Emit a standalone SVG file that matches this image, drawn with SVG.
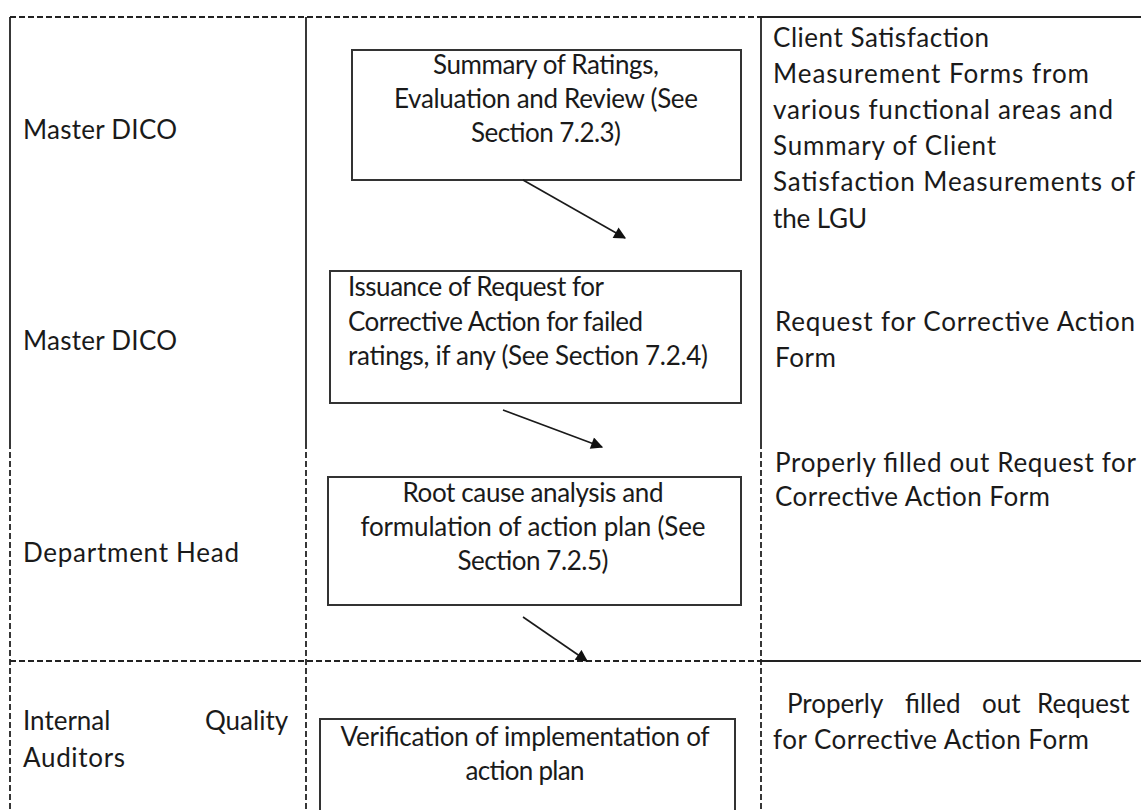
<svg xmlns="http://www.w3.org/2000/svg" width="1141" height="810" viewBox="0 0 1141 810">
  <style>
    text { font-family: Lato, Carlito, "Open Sans", "Liberation Sans", sans-serif; font-size: 26px; fill: #1a1a1a; }
    .box { fill: #ffffff; stroke: #333333; stroke-width: 2; }
    .solid { stroke: #222222; stroke-width: 1.8; fill: none; }
    .dash { stroke: #222222; stroke-width: 1.8; fill: none; stroke-dasharray: 6 3; }
    .flow { stroke: #1a1a1a; stroke-width: 1.6; fill: none; }
    .c { text-anchor: middle; }
  </style>
  <defs>
    <marker id="head" viewBox="0 0 10 10" refX="9" refY="5" markerWidth="13" markerHeight="12" markerUnits="userSpaceOnUse" orient="auto">
      <path d="M0,0 L10,5 L0,10 z" fill="#111"/>
    </marker>
    <marker id="headBig" viewBox="0 0 10 10" refX="9" refY="5" markerWidth="13" markerHeight="12" markerUnits="userSpaceOnUse" orient="auto">
      <path d="M0,0 L10,5 L0,10 z" fill="#111"/>
    </marker>
  </defs>
  <rect width="1141" height="810" fill="#ffffff"/>

  <!-- table grid -->
  <g id="grid">
    <line class="dash" x1="10" y1="17" x2="761" y2="17"/>
    <line class="solid" x1="761" y1="17" x2="1141" y2="17"/>
    <line class="dash" x1="10" y1="661" x2="761" y2="661"/>
    <line class="solid" x1="761" y1="661" x2="1141" y2="661"/>
    <line class="solid" x1="10" y1="17" x2="10" y2="443"/>
    <line class="dash" x1="10" y1="443" x2="10" y2="810"/>
    <line class="solid" x1="306" y1="17" x2="306" y2="443"/>
    <line class="dash" x1="306" y1="443" x2="306" y2="810"/>
    <line class="solid" x1="761" y1="17" x2="761" y2="443"/>
    <line class="dash" x1="761" y1="443" x2="761" y2="810"/>
  </g>

  <!-- responsible parties -->
  <g id="roles">
    <text x="23" y="139" textLength="154" lengthAdjust="spacing">Master DICO</text>
    <text x="23" y="350" textLength="154" lengthAdjust="spacing">Master DICO</text>
    <text x="23" y="562" textLength="216" lengthAdjust="spacing">Department Head</text>
    <text y="730"><tspan x="23">Internal</tspan><tspan x="205">Quality</tspan></text>
    <text x="23" y="767" textLength="102" lengthAdjust="spacing">Auditors</text>
  </g>

  <!-- process steps -->
  <g id="step-summary">
    <rect class="box" x="352" y="50" width="389" height="130"/>
    <text class="c" x="546" y="74" textLength="226" lengthAdjust="spacing">Summary of Ratings,</text>
    <text class="c" x="546" y="108" textLength="304" lengthAdjust="spacing">Evaluation and Review (See</text>
    <text class="c" x="546" y="142" textLength="150" lengthAdjust="spacing">Section 7.2.3)</text>
  </g>
  <g id="step-request">
    <rect class="box" x="330" y="271" width="411" height="132"/>
    <text x="348" y="296" textLength="256" lengthAdjust="spacing">Issuance of Request for</text>
    <text x="348" y="331" textLength="295" lengthAdjust="spacing">Corrective Action for failed</text>
    <text x="348" y="365" textLength="360" lengthAdjust="spacing">ratings, if any (See Section 7.2.4)</text>
  </g>
  <g id="step-analysis">
    <rect class="box" x="328" y="477" width="413" height="128"/>
    <text class="c" x="533" y="502" textLength="261" lengthAdjust="spacing">Root cause analysis and</text>
    <text class="c" x="533" y="536" textLength="345" lengthAdjust="spacing">formulation of action plan (See</text>
    <text class="c" x="533" y="570" textLength="151" lengthAdjust="spacing">Section 7.2.5)</text>
  </g>
  <g id="step-verification">
    <rect class="box" x="320" y="719" width="415" height="110"/>
    <text class="c" x="525" y="746" textLength="369" lengthAdjust="spacing">Verification of implementation of</text>
    <text class="c" x="525" y="780" textLength="119" lengthAdjust="spacing">action plan</text>
  </g>

  <!-- records -->
  <g id="records-1">
    <text x="773" y="47" textLength="216" lengthAdjust="spacing">Client Satisfaction</text>
    <text x="773" y="83" textLength="316" lengthAdjust="spacing">Measurement Forms from</text>
    <text x="773" y="119" textLength="340" lengthAdjust="spacing">various functional areas and</text>
    <text x="773" y="155" textLength="223" lengthAdjust="spacing">Summary of Client</text>
    <text x="773" y="191" textLength="362" lengthAdjust="spacing">Satisfaction Measurements of</text>
    <text x="773" y="228" textLength="94" lengthAdjust="spacing">the LGU</text>
  </g>
  <g id="records-2">
    <text x="775" y="331" textLength="360" lengthAdjust="spacing">Request for Corrective Action</text>
    <text x="775" y="367" textLength="61" lengthAdjust="spacing">Form</text>
  </g>
  <g id="records-3">
    <text x="775" y="472" textLength="361" lengthAdjust="spacing">Properly filled out Request for</text>
    <text x="775" y="506" textLength="275" lengthAdjust="spacing">Corrective Action Form</text>
  </g>
  <g id="records-4">
    <text y="713"><tspan x="787">Properly</tspan><tspan x="905">filled</tspan><tspan x="982">out</tspan><tspan x="1037">Request</tspan></text>
    <text x="773" y="749" textLength="316" lengthAdjust="spacing">for Corrective Action Form</text>
  </g>

  <!-- flow connectors -->
  <g id="connectors">
    <line class="flow" x1="523" y1="180" x2="625" y2="238" marker-end="url(#head)"/>
    <line class="flow" x1="503" y1="410" x2="602" y2="447" marker-end="url(#head)"/>
    <line class="flow" x1="523" y1="617" x2="587" y2="661" stroke-width="2.6" marker-end="url(#headBig)"/>
  </g>
</svg>
